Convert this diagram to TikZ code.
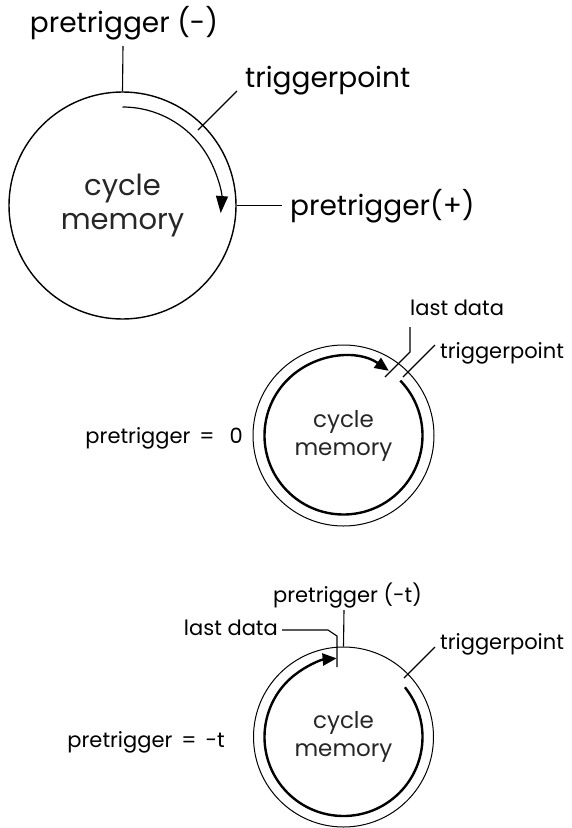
\documentclass[tikz,border=0pt]{standalone}
\usepackage{fontspec}
\setmainfont{Poppins}
\usetikzlibrary{arrows.meta,calc}
\begin{document}
\begin{tikzpicture}[x=1pt,y=-1pt,
  bigtxt/.style={font=\fontsize{28}{30}\selectfont, inner sep=0pt},
  smalltxt/.style={font=\fontsize{21}{23}\selectfont, inner sep=0pt},
  memo/.style={draw, circle, inner sep=0pt, align=center, text=black!85},
  tick/.style={line width=1.1pt},
  ring/.style={line width=2.4pt},
  bigarrow/.style={line width=1.2pt, -{Triangle[length=17pt,width=12pt]}},
  ringarrow/.style={ring, -{Triangle[length=14pt,width=12pt]}}]
\useasboundingbox (0,0) rectangle (572,828);

% ---------- top circle ----------
\node[memo, line width=1.4pt, minimum size=227pt, font=\fontsize{29}{34}\selectfont] (c1) at (122.5,205.5) {cycle\\memory};
\node[bigtxt, anchor=base] (pm) at (124,32) {pretrigger (-)};
\coordinate (pmend) at (123,46);
\draw[tick] (c1.north) -- (pmend);
\node[bigtxt, anchor=base west] (tp1) at (245,87) {triggerpoint};
\coordinate (tp1a) at (198,130);
\coordinate (tp1b) at (237,91);
\draw[tick] (tp1a) -- (tp1b);
\node[bigtxt, anchor=base west] (pp) at (290,215) {pretrigger(+)};
\coordinate (ppend) at (282,205.5);
\draw[tick] (c1.east) -- (ppend);
\draw[bigarrow] (c1.center) ++(-90:98.5) arc[start angle=-90, end angle=4.4, radius=98.5];

% ---------- middle circle ----------
\node[memo, line width=1pt, minimum size=181pt, font=\fontsize{23}{28}\selectfont] (c2) at (343.5,435.5) {cycle\\memory};
\draw[ringarrow] (c2.center) ++(-44:79) arc[start angle=-44, end angle=305, radius=79];
\node[smalltxt, anchor=base west] (ld2) at (410,315) {last data};
\coordinate (ld2a) at (410,327);
\coordinate (ld2b) at (410,352);
\coordinate (ld2c) at (385,377);
\draw[tick] (ld2a) -- (ld2b) -- (ld2c);
\node[smalltxt, anchor=base west] (tp2) at (440,358) {triggerpoint};
\coordinate (tp2a) at (403,377);
\coordinate (tp2b) at (435,345);
\draw[tick] (tp2a) -- (tp2b);
\node[smalltxt, anchor=base east] (pz) at (243,443) {pretrigger\hspace{9pt}=\hspace{15pt}0};

% ---------- bottom circle ----------
\node[memo, line width=1pt, minimum size=180pt, font=\fontsize{23}{28}\selectfont] (c3) at (343.5,737) {cycle\\memory};
\draw[ringarrow] (c3.center) ++(-39:79) arc[start angle=-39, end angle=265, radius=79];
\node[smalltxt, anchor=base] (pt) at (347.5,602) {pretrigger (-t)};
\coordinate (ptend) at (344,610);
\draw[tick] (c3.north) -- (ptend);
\node[smalltxt, anchor=base east] (ld3) at (278,635) {last data};
\coordinate (ld3a) at (282,630);
\coordinate (ld3b) at (328,630);
\coordinate (ld3c) at (337,636);
\coordinate (ld3d) at (337,667);
\draw[tick] (ld3a) -- (ld3b) -- (ld3c) -- (ld3d);
\node[smalltxt, anchor=base west] (tp3) at (440,649) {triggerpoint};
\coordinate (tp3a) at (404,678);
\coordinate (tp3b) at (435,647);
\draw[tick] (tp3a) -- (tp3b);
\node[smalltxt, anchor=base east] (pmt) at (225,747) {pretrigger\hspace{9pt}=\hspace{9pt}-t};
\end{tikzpicture}
\end{document}
